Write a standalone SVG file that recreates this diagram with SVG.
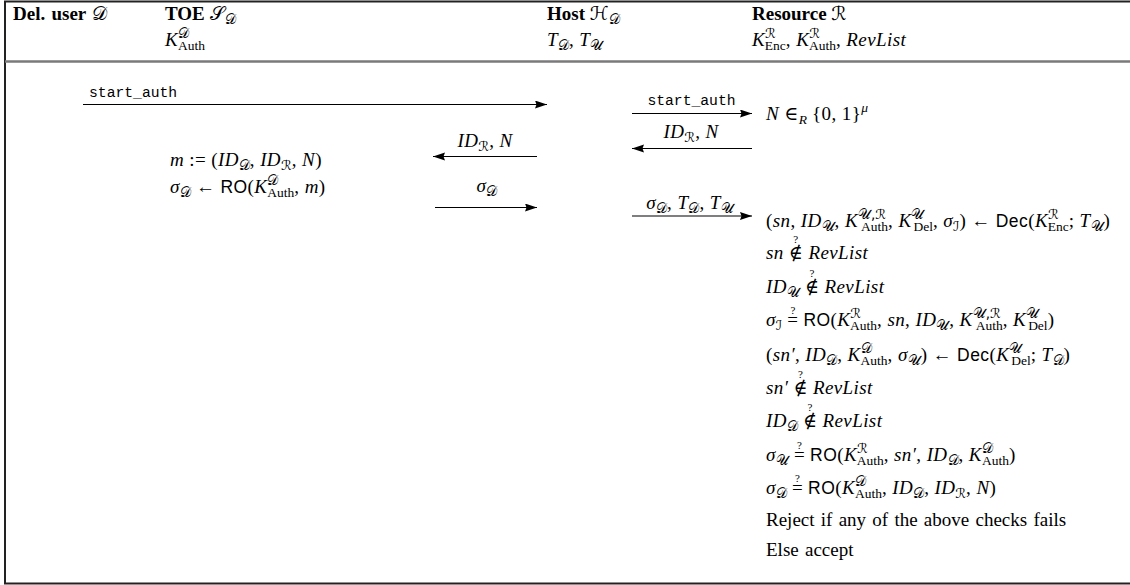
<svg xmlns="http://www.w3.org/2000/svg" width="1130" height="585" viewBox="0 0 1130 585">
<style>
.t{font-family:"Liberation Serif","DejaVu Serif",serif;font-size:19px;fill:#000}
.m{letter-spacing:0.4px}
.w{word-spacing:1.5px}
.b{font-weight:bold}
.i{font-style:italic}
.s{font-size:13.5px;letter-spacing:0}
.q{font-size:11px;font-style:normal;letter-spacing:0}
.c{font-family:"DejaVu Sans","DejaVu Serif","Noto Sans",serif;font-style:normal;font-weight:normal}
.sf{font-family:"Liberation Sans",sans-serif;font-size:17.5px}
.tt{font-family:"Liberation Mono",monospace;font-size:14.7px;fill:#000}
.ln{stroke:#000;stroke-width:1.2;fill:none;marker-end:url(#ah)}
</style>
<defs>
<marker id="ah" markerUnits="userSpaceOnUse" markerWidth="14" markerHeight="10" refX="12" refY="4" orient="auto">
<path d="M0,0 L12,4 L0,8 L1.5,4 z" fill="#000"/>
</marker>
</defs>
<rect width="1130" height="585" fill="#fff"/>
<g id="frame">
<polyline points="1130,1.5 5,1.5 5,583.5 1130,583.5" fill="none" stroke="#222" stroke-width="2"/>
<line x1="5" y1="61.5" x2="1130" y2="61.5" stroke="#7a7a7a" stroke-width="2.5"/>
</g>
<g id="user">
<text class="t b w" x="13" y="20">Del. user <tspan class="c">𝒟</tspan></text>
</g>
<g id="toe">
<text class="t" x="165" y="20"><tspan class="b">TOE </tspan><tspan class="c">𝒮</tspan><tspan class="s c" dy="4">𝒟</tspan></text>
<text class="t m" x="165" y="46"><tspan class="i">K</tspan><tspan class="s c" dy="-8">𝒟</tspan><tspan class="s" dx="-11" dy="12">Auth</tspan></text>
<text class="t m" x="170" y="166"><tspan class="i">m</tspan> := (<tspan class="i">ID</tspan><tspan class="s c" dy="4">𝒟</tspan><tspan dy="-4">, </tspan><tspan class="i">ID</tspan><tspan class="s c" dy="4">ℛ</tspan><tspan dy="-4">, </tspan><tspan class="i">N</tspan>)</text>
<text class="t m" x="170" y="193"><tspan class="i">σ</tspan><tspan class="s c" dy="4">𝒟</tspan><tspan dy="-4"> ← </tspan><tspan class="sf">RO</tspan>(<tspan class="i">K</tspan><tspan class="s c" dy="-8">𝒟</tspan><tspan class="s" dx="-11" dy="12">Auth</tspan><tspan dy="-4">, </tspan><tspan class="i">m</tspan>)</text>
</g>
<g id="host">
<text class="t" x="547" y="20"><tspan class="b">Host </tspan><tspan class="c">ℋ</tspan><tspan class="s c" dy="4">𝒟</tspan></text>
<text class="t m" x="547" y="46"><tspan class="i">T</tspan><tspan class="s c" dy="4">𝒟</tspan><tspan dy="-4">, </tspan><tspan class="i">T</tspan><tspan class="s c" dy="4">𝒰</tspan></text>
</g>
<g id="resource">
<text class="t" x="752" y="20"><tspan class="b">Resource </tspan><tspan class="c">ℛ</tspan></text>
<text class="t m" x="752" y="46"><tspan class="i">K</tspan><tspan class="s c" dy="-8">ℛ</tspan><tspan class="s" dx="-11" dy="12">Enc</tspan><tspan dy="-4">, </tspan><tspan class="i">K</tspan><tspan class="s c" dy="-8">ℛ</tspan><tspan class="s" dx="-11" dy="12">Auth</tspan><tspan dy="-4">, </tspan><tspan class="i">RevList</tspan></text>
<text class="t m" x="766" y="120"><tspan class="i">N</tspan> ∈<tspan class="s i" dy="4">R</tspan><tspan dy="-4"> {0, 1}</tspan><tspan class="s i" dy="-8">μ</tspan></text>
<text class="t m" x="766" y="227">(<tspan class="i">sn</tspan>, <tspan class="i">ID</tspan><tspan class="s c" dy="4">𝒰</tspan><tspan dy="-4">, </tspan><tspan class="i">K</tspan><tspan class="s c" dy="-8">𝒰,ℛ</tspan><tspan class="s" dx="-25" dy="12">Auth</tspan><tspan dy="-4">, </tspan><tspan class="i">K</tspan><tspan class="s c" dy="-8">𝒰</tspan><tspan class="s" dx="-11" dy="12">Del</tspan><tspan dy="-4">, </tspan><tspan class="i">σ</tspan><tspan class="s c" dy="4">ℐ</tspan><tspan dy="-4">) ← </tspan><tspan class="sf">Dec</tspan>(<tspan class="i">K</tspan><tspan class="s c" dy="-8">ℛ</tspan><tspan class="s" dx="-11" dy="12">Enc</tspan><tspan dy="-4">; </tspan><tspan class="i">T</tspan><tspan class="s c" dy="4">𝒰</tspan><tspan dy="-4">)</tspan></text>
<text class="t m" x="766" y="259"><tspan class="i">sn</tspan> ∉<tspan class="q" dx="-10" dy="-16">?</tspan><tspan dx="5" dy="16"> </tspan><tspan class="i">RevList</tspan></text>
<text class="t m" x="766" y="293"><tspan class="i">ID</tspan><tspan class="s c" dy="4">𝒰</tspan><tspan dy="-4"> ∉</tspan><tspan class="q" dx="-10" dy="-16">?</tspan><tspan dx="5" dy="16"> </tspan><tspan class="i">RevList</tspan></text>
<text class="t m" x="766" y="326"><tspan class="i">σ</tspan><tspan class="s c" dy="4">ℐ</tspan><tspan dy="-4"> =</tspan><tspan class="q" dx="-8" dy="-12">?</tspan><tspan dx="3" dy="12"> </tspan><tspan class="sf">RO</tspan>(<tspan class="i">K</tspan><tspan class="s c" dy="-8">ℛ</tspan><tspan class="s" dx="-11" dy="12">Auth</tspan><tspan dy="-4">, </tspan><tspan class="i">sn</tspan>, <tspan class="i">ID</tspan><tspan class="s c" dy="4">𝒰</tspan><tspan dy="-4">, </tspan><tspan class="i">K</tspan><tspan class="s c" dy="-8">𝒰,ℛ</tspan><tspan class="s" dx="-25" dy="12">Auth</tspan><tspan dy="-4">, </tspan><tspan class="i">K</tspan><tspan class="s c" dy="-8">𝒰</tspan><tspan class="s" dx="-11" dy="12">Del</tspan><tspan dy="-4">)</tspan></text>
<text class="t m" x="766" y="361">(<tspan class="i">sn′</tspan>, <tspan class="i">ID</tspan><tspan class="s c" dy="4">𝒟</tspan><tspan dy="-4">, </tspan><tspan class="i">K</tspan><tspan class="s c" dy="-8">𝒟</tspan><tspan class="s" dx="-11" dy="12">Auth</tspan><tspan dy="-4">, </tspan><tspan class="i">σ</tspan><tspan class="s c" dy="4">𝒰</tspan><tspan dy="-4">) ← </tspan><tspan class="sf">Dec</tspan>(<tspan class="i">K</tspan><tspan class="s c" dy="-8">𝒰</tspan><tspan class="s" dx="-11" dy="12">Del</tspan><tspan dy="-4">; </tspan><tspan class="i">T</tspan><tspan class="s c" dy="4">𝒟</tspan><tspan dy="-4">)</tspan></text>
<text class="t m" x="766" y="394"><tspan class="i">sn′</tspan> ∉<tspan class="q" dx="-10" dy="-16">?</tspan><tspan dx="5" dy="16"> </tspan><tspan class="i">RevList</tspan></text>
<text class="t m" x="766" y="427"><tspan class="i">ID</tspan><tspan class="s c" dy="4">𝒟</tspan><tspan dy="-4"> ∉</tspan><tspan class="q" dx="-10" dy="-16">?</tspan><tspan dx="5" dy="16"> </tspan><tspan class="i">RevList</tspan></text>
<text class="t m" x="766" y="461"><tspan class="i">σ</tspan><tspan class="s c" dy="4">𝒰</tspan><tspan dy="-4"> =</tspan><tspan class="q" dx="-8" dy="-12">?</tspan><tspan dx="3" dy="12"> </tspan><tspan class="sf">RO</tspan>(<tspan class="i">K</tspan><tspan class="s c" dy="-8">ℛ</tspan><tspan class="s" dx="-11" dy="12">Auth</tspan><tspan dy="-4">, </tspan><tspan class="i">sn′</tspan>, <tspan class="i">ID</tspan><tspan class="s c" dy="4">𝒟</tspan><tspan dy="-4">, </tspan><tspan class="i">K</tspan><tspan class="s c" dy="-8">𝒟</tspan><tspan class="s" dx="-11" dy="12">Auth</tspan><tspan dy="-4">)</tspan></text>
<text class="t m" x="766" y="494"><tspan class="i">σ</tspan><tspan class="s c" dy="4">𝒟</tspan><tspan dy="-4"> =</tspan><tspan class="q" dx="-8" dy="-12">?</tspan><tspan dx="3" dy="12"> </tspan><tspan class="sf">RO</tspan>(<tspan class="i">K</tspan><tspan class="s c" dy="-8">𝒟</tspan><tspan class="s" dx="-11" dy="12">Auth</tspan><tspan dy="-4">, </tspan><tspan class="i">ID</tspan><tspan class="s c" dy="4">𝒟</tspan><tspan dy="-4">, </tspan><tspan class="i">ID</tspan><tspan class="s c" dy="4">ℛ</tspan><tspan dy="-4">, </tspan><tspan class="i">N</tspan>)</text>
<text class="t w" x="766" y="526">Reject if any of the above checks fails</text>
<text class="t w" x="766" y="556">Else accept</text>
</g>
<g id="connectors">
<line class="ln" x1="83" y1="104.5" x2="547" y2="104.5"/>
<line class="ln" x1="632" y1="113.5" x2="752" y2="113.5"/>
<line class="ln" x1="752" y1="148.5" x2="632" y2="148.5"/>
<line class="ln" x1="537" y1="156.5" x2="433" y2="156.5"/>
<line class="ln" x1="435" y1="207.5" x2="537" y2="207.5"/>
<line class="ln" x1="632" y1="216" x2="752" y2="216"/>
</g>
<g id="connector-labels">
<text class="tt" x="89" y="97">start_auth</text>
<text class="tt" x="691.5" y="105" text-anchor="middle">start_auth</text>
<text class="t m" x="691" y="138" text-anchor="middle"><tspan class="i">ID</tspan><tspan class="s c" dy="4">ℛ</tspan><tspan dy="-4">, </tspan><tspan class="i">N</tspan></text>
<text class="t m" x="485" y="147" text-anchor="middle"><tspan class="i">ID</tspan><tspan class="s c" dy="4">ℛ</tspan><tspan dy="-4">, </tspan><tspan class="i">N</tspan></text>
<text class="t m" x="487" y="192" text-anchor="middle"><tspan class="i">σ</tspan><tspan class="s c" dy="4">𝒟</tspan></text>
<text class="t m" x="690" y="209" text-anchor="middle"><tspan class="i">σ</tspan><tspan class="s c" dy="4">𝒟</tspan><tspan dy="-4">, </tspan><tspan class="i">T</tspan><tspan class="s c" dy="4">𝒟</tspan><tspan dy="-4">, </tspan><tspan class="i">T</tspan><tspan class="s c" dy="4">𝒰</tspan></text>
</g>
</svg>
